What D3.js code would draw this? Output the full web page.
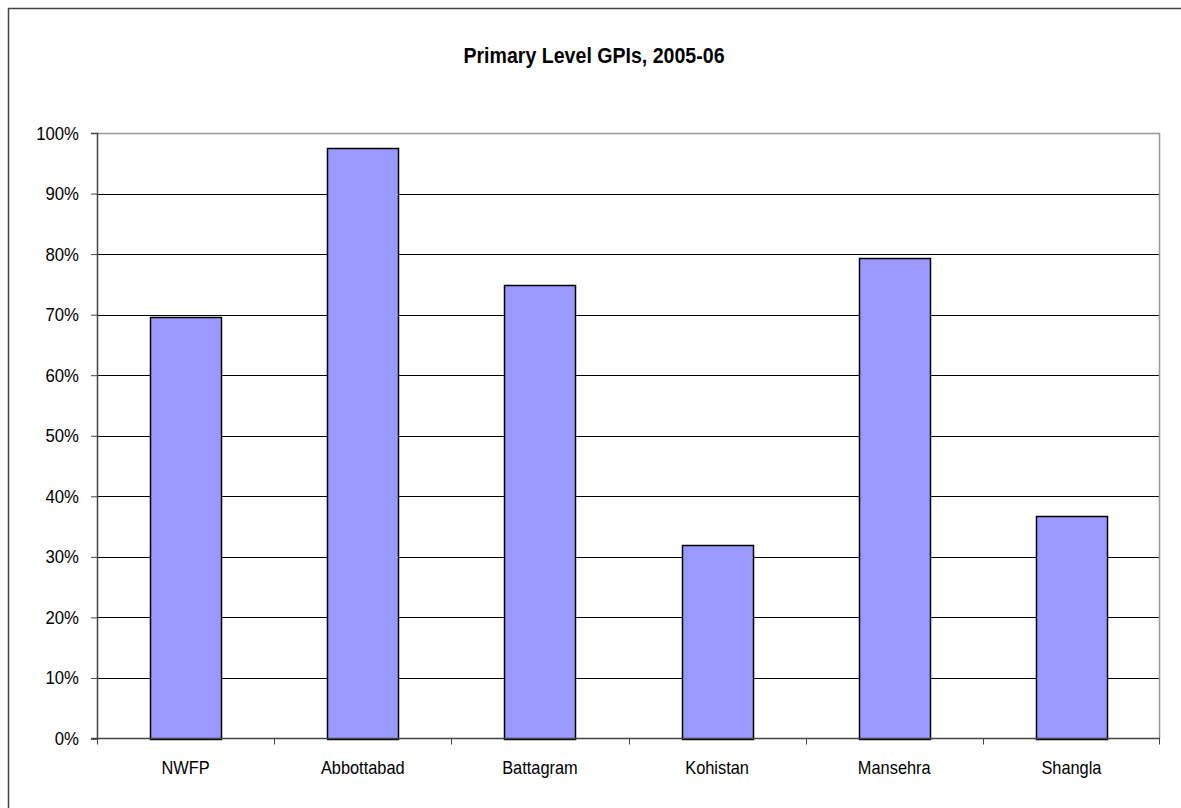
<!DOCTYPE html>
<html>
<head>
<meta charset="utf-8">
<script src="https://cdn.jsdelivr.net/npm/d3@7"></script>
<style>
  body { margin: 0; background: #fff; }
  svg { font-family: "Liberation Sans", Arial, sans-serif; }
</style>
</head>
<body>
<div id="vis"></div>
<script>
const width = 1181;
const height = 808;
const margin = { top: 133, right: 21, bottom: 69, left: 97 };

// Data
const districts = ["NWFP", "Abbottabad", "Battagram", "Kohistan", "Mansehra", "Shangla"];
const gpi = [0.696, 0.975, 0.749, 0.320, 0.793, 0.367];
const yTicks = [0, 0.1, 0.2, 0.3, 0.4, 0.5, 0.6, 0.7, 0.8, 0.9, 1.0];

const svg = d3.select("#vis").append("svg")
  .attr("width", width)
  .attr("height", height);

// Outer chart border
svg.append("rect")
  .attr("x", 8.5).attr("y", 8.5)
  .attr("width", width).attr("height", height)
  .attr("fill", "none")
  .attr("stroke", "#444")
  .attr("stroke-width", 1.5);

const xScale = d3.scaleBand()
  .domain(districts)
  .range([margin.left, width - margin.right])
  .paddingInner(0.6)
  .paddingOuter(0.3);

const xBand = d3.scaleBand()
  .domain(districts)
  .range([margin.left, width - margin.right]);

const yScale = d3.scaleLinear()
  .domain([0, 1])
  .range([height - margin.bottom - 0.5, margin.top]);

// condensed-looking text helper
function label(g, x, y, txt, size, sx, anchor, bold) {
  return g.append("text")
    .attr("transform", `translate(${x},${y}) scale(${sx},1)`)
    .attr("text-anchor", anchor)
    .attr("font-size", size)
    .attr("font-weight", bold ? "bold" : "normal")
    .attr("fill", "#000")
    .text(txt);
}

// Gridlines
svg.append("g")
  .selectAll("line")
  .data(yTicks.slice(1, -1))
  .join("line")
  .attr("x1", margin.left)
  .attr("x2", width - margin.right)
  .attr("y1", d => Math.round(yScale(d)) + 0.5)
  .attr("y2", d => Math.round(yScale(d)) + 0.5)
  .attr("stroke", "#000");

// Plot area border (top/right)
svg.append("path")
  .attr("d", `M${margin.left},${margin.top + 0.5}H${width - margin.right - 0.5}V${height - margin.bottom}`)
  .attr("fill", "none")
  .attr("stroke", "#999")
  .attr("stroke-width", 1.5);

// Bars
svg.append("g")
  .selectAll("rect")
  .data(districts)
  .join("rect")
  .attr("x", d => Math.round(xScale(d)) + 0.5)
  .attr("y", (d, i) => Math.round(yScale(gpi[i])) + 0.5)
  .attr("width", Math.round(xScale.bandwidth()))
  .attr("height", (d, i) => Math.round(yScale(0)) - Math.round(yScale(gpi[i])))
  .attr("fill", "#9999ff")
  .attr("stroke", "#000")
  .attr("stroke-width", 1.5);

// Y axis
const yAxis = svg.append("g")
  .attr("transform", `translate(${margin.left},0)`)
  .call(d3.axisLeft(yScale).tickValues(yTicks).tickFormat("").tickSize(6));
yAxis.select(".domain").attr("stroke", "#444").attr("stroke-width", 1.5);
yAxis.selectAll(".tick line").attr("stroke", "#444");
const yLabels = svg.append("g");
yTicks.forEach(t => label(yLabels, 79, yScale(t) + 6.5, d3.format(".0%")(t), 18, 0.93, "end"));

// X axis
const xAxisG = svg.append("g")
  .attr("transform", `translate(0,${yScale(0)})`);
xAxisG.append("line")
  .attr("x1", margin.left - 6).attr("x2", width - margin.right)
  .attr("stroke", "#444").attr("stroke-width", 1.5);
xAxisG.selectAll(".sep")
  .data(districts.concat(["end"]))
  .join("line")
  .attr("class", "sep")
  .attr("x1", (d, i) => i < districts.length ? Math.round(xBand(d)) + 0.5 : width - margin.right - 0.5)
  .attr("x2", (d, i) => i < districts.length ? Math.round(xBand(d)) + 0.5 : width - margin.right - 0.5)
  .attr("y1", 0).attr("y2", 6)
  .attr("stroke", "#444");
const xLabels = svg.append("g");
districts.forEach(d => label(xLabels, xBand(d) + xBand.bandwidth() / 2, 774, d, 18, 0.91, "middle"));

// Title
label(svg, 594, 63, "Primary Level GPIs, 2005-06", 22, 0.89, "middle", true);
</script>
</body>
</html>
